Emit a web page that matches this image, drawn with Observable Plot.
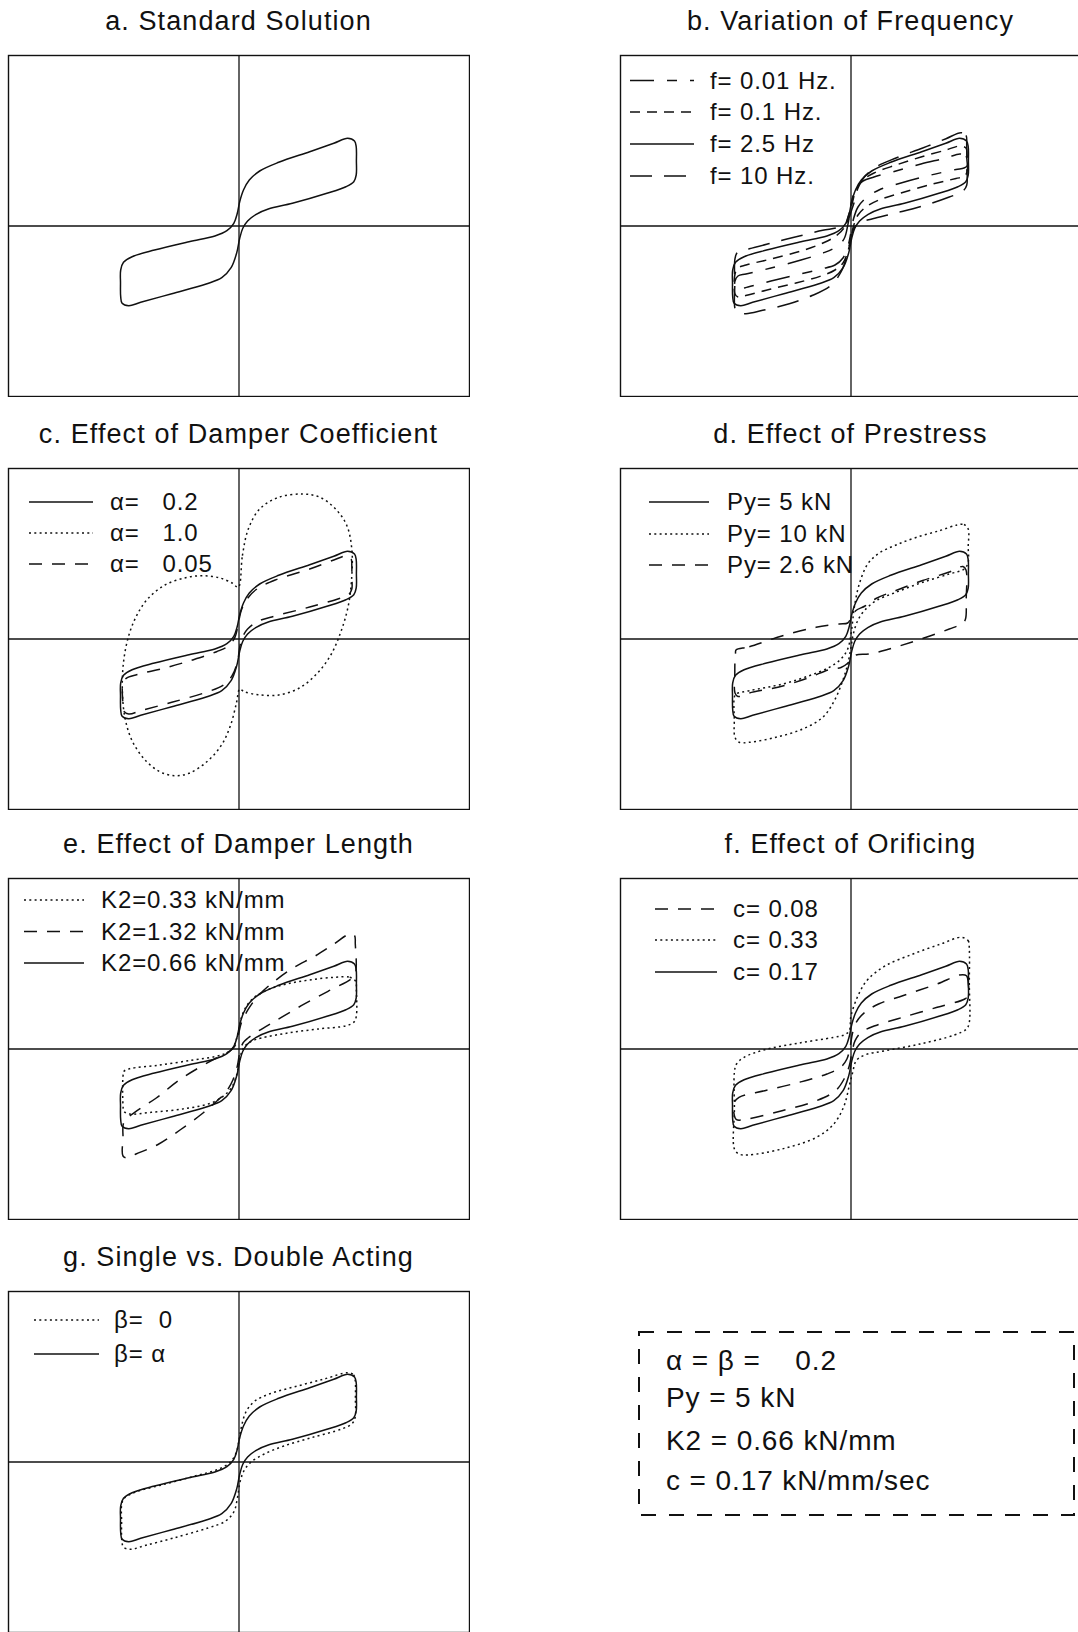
<!DOCTYPE html>
<html>
<head>
<meta charset="utf-8">
<script src="https://cdn.jsdelivr.net/npm/d3@7"></script>
<script src="https://cdn.jsdelivr.net/npm/@observablehq/plot@0.6"></script>
<style>
  html, body { margin: 0; padding: 0; background: #fff; }
  #page {
    position: relative; width: 1078px; height: 1632px; overflow: hidden; background: #fff;
    font-family: "Liberation Sans", Arial, Helvetica, sans-serif;
  }
  #page > svg { position: absolute; }
</style>
</head>
<body>
<div id="page"></div>
<script>
// Force (vertical) against displacement (horizontal) for one full cycle,
// each loop listed as [displacement, force] points traced around the loop.

// Standard solution: alpha = beta = 0.2, Py = 5 kN, K2 = 0.66 kN/mm, c = 0.17
const standardLoop = [
  [10.86, 8.77], [11.55, 8.5], [11.72, 7.93], [11.74, 6.5], [11.72, 5.1], [11.48, 4.43],
  [10.69, 3.93], [8.79, 3.27], [5.34, 2.27], [2.93, 1.7], [1.72, 1.17], [0.86, 0.5],
  [0.38, -0.23], [0.07, -1.23], [-0.24, -2.73], [-0.79, -4.17], [-1.72, -5.17], [-3.28, -5.8],
  [-6.72, -6.77], [-9.83, -7.63], [-11.03, -7.97], [-11.69, -7.73], [-11.83, -7.07], [-11.85, -5.7],
  [-11.83, -4.4], [-11.55, -3.63], [-10.69, -3.07], [-8.45, -2.4], [-5.0, -1.57], [-2.41, -1.0],
  [-1.21, -0.47], [-0.52, 0.27], [-0.17, 1.27], [0.07, 2.43], [0.45, 3.6], [1.03, 4.6],
  [2.07, 5.5], [3.97, 6.37], [7.07, 7.43], [9.48, 8.27]
];

// b. frequency of the cycle
const freq10Loop = [
  [11.0, 9.33], [11.5, 9.07], [11.57, 8.07], [11.58, 6.0], [11.57, 4.07], [11.17, 3.47],
  [9.83, 2.9], [7.17, 2.0], [4.5, 1.3], [2.17, 0.73], [1.0, 0.4], [0.43, 0.0],
  [0.1, -0.77], [-0.17, -1.93], [-0.5, -3.27], [-1.0, -4.6], [-2.0, -5.93], [-3.83, -6.93],
  [-6.17, -7.77], [-8.83, -8.43], [-10.5, -8.77], [-11.33, -8.67], [-11.6, -8.27], [-11.62, -5.8],
  [-11.6, -3.27], [-11.33, -2.6], [-10.17, -2.27], [-7.83, -1.67], [-5.17, -1.0], [-2.83, -0.43],
  [-1.5, -0.2], [-0.67, 0.07], [-0.23, 0.73], [0.0, 1.4], [0.33, 2.4], [0.67, 3.73],
  [1.33, 4.9], [2.5, 5.9], [4.5, 6.8], [7.17, 7.8], [9.5, 8.73]
];
const freq01Loop = [
  [10.9, 8.0], [11.5, 7.8], [11.6, 7.2], [11.6, 5.4], [11.3, 4.95], [10.5, 4.75],
  [8.0, 4.15], [5.0, 3.3], [2.8, 2.6], [1.5, 1.9], [0.7, 1.1], [0.25, 0.0],
  [0.0, -1.2], [-0.3, -2.5], [-0.8, -3.7], [-1.6, -4.4], [-3.0, -5.0], [-5.5, -5.7],
  [-8.0, -6.3], [-10.3, -6.9], [-11.3, -7.1], [-11.6, -6.8], [-11.6, -4.8], [-11.3, -4.2],
  [-10.5, -3.9], [-8.0, -3.3], [-5.0, -2.5], [-2.8, -1.7], [-1.5, -1.0], [-0.7, -0.2],
  [-0.3, 0.9], [0.1, 2.2], [0.5, 3.6], [1.2, 4.6], [2.3, 5.3], [4.5, 6.1],
  [7.0, 6.9], [9.5, 7.6]
];
const freq001Loop = [
  [10.9, 7.2], [11.5, 7.0], [11.6, 6.5], [11.6, 6.0], [11.3, 5.8], [10.5, 5.65],
  [8.0, 5.1], [5.0, 4.3], [2.8, 3.6], [1.5, 2.8], [0.7, 1.9], [0.25, 0.7],
  [0.0, -0.6], [-0.3, -2.0], [-0.8, -3.2], [-1.6, -3.9], [-3.0, -4.3], [-5.5, -4.9],
  [-8.0, -5.5], [-10.3, -6.1], [-11.3, -6.3], [-11.6, -6.1], [-11.6, -5.5], [-11.3, -5.0],
  [-10.5, -4.8], [-8.0, -4.2], [-5.0, -3.4], [-2.8, -2.7], [-1.5, -2.1], [-0.7, -1.3],
  [-0.3, 0.2], [0.1, 2.6], [0.5, 3.8], [1.2, 4.5], [2.3, 4.9], [4.5, 5.5],
  [7.0, 6.2], [9.5, 6.8]
];

// c. damper exponent
const alpha1Loop = [
  [-0.07, 5.17], [0.34, 8.33], [0.93, 11.0], [2.07, 13.0], [3.97, 14.17], [6.38, 14.5],
  [8.1, 14.17], [9.66, 13.0], [10.79, 11.33], [11.28, 9.0], [11.28, 6.33], [10.93, 3.33],
  [10.17, 0.67], [9.14, -1.67], [7.76, -3.5], [6.03, -4.9], [3.97, -5.6], [1.9, -5.57],
  [0.52, -5.27], [0.07, -5.0], [-0.24, -6.33], [-0.86, -8.67], [-1.79, -10.67], [-3.28, -12.33],
  [-5.0, -13.43], [-6.38, -13.67], [-7.93, -13.27], [-9.48, -12.0], [-10.69, -10.17], [-11.38, -8.0],
  [-11.66, -5.33], [-11.55, -2.33], [-11.03, 0.33], [-10.24, 2.33], [-9.14, 4.0], [-7.41, 5.4],
  [-5.34, 6.13], [-3.62, 6.33], [-1.9, 6.1], [-0.69, 5.6]
];
const alpha005Loop = [
  [10.69, 8.3], [11.21, 8.0], [11.28, 7.33], [11.28, 6.2], [11.28, 5.0], [10.93, 4.4],
  [10.17, 4.1], [7.07, 3.2], [3.62, 2.3], [1.9, 1.77], [0.86, 1.0], [0.34, 0.17],
  [0.1, -0.67], [-0.17, -2.33], [-0.69, -3.67], [-1.55, -4.6], [-3.28, -5.33], [-6.72, -6.33],
  [-9.83, -7.17], [-11.03, -7.5], [-11.55, -7.17], [-11.62, -6.33], [-11.62, -4.5], [-11.28, -3.93],
  [-10.17, -3.55], [-7.41, -2.9], [-4.66, -2.1], [-2.24, -1.27], [-1.03, -0.67], [-0.41, 0.17],
  [-0.1, 1.33], [0.17, 2.67], [0.69, 3.83], [1.72, 4.95], [3.62, 5.9], [7.07, 7.0],
  [9.48, 7.9]
];

// d. prestress force
const py10Loop = [
  [10.6, 11.4], [11.3, 11.45], [11.72, 11.0], [11.72, 9.2], [11.72, 7.7], [11.33, 7.0],
  [9.83, 6.5], [7.17, 5.67], [4.5, 4.67], [2.5, 3.83], [1.33, 2.83], [0.67, 1.83],
  [0.23, 0.5], [0.0, -0.83], [-0.33, -2.5], [-0.83, -4.17], [-1.67, -6.17], [-2.83, -7.83],
  [-4.83, -9.0], [-7.5, -9.83], [-10.17, -10.33], [-11.17, -10.33], [-11.6, -9.83], [-11.67, -8.0],
  [-11.67, -5.83], [-11.5, -5.5], [-10.17, -5.17], [-6.83, -4.5], [-4.17, -3.67], [-2.17, -2.83],
  [-1.0, -2.0], [-0.33, -1.0], [0.0, 0.5], [0.17, 1.83], [0.33, 3.17], [0.83, 5.5],
  [1.67, 7.5], [2.83, 8.6], [4.5, 9.4], [6.5, 10.15], [8.9, 10.85]
];
const py26Loop = [
  [-11.5, -1.1], [-10.17, -0.77], [-6.83, 0.33], [-3.5, 1.17], [-1.17, 1.5], [-0.33, 1.6],
  [0.05, 2.2], [0.5, 2.85], [1.4, 3.3], [2.5, 4.05], [4.5, 4.85], [7.17, 5.85],
  [9.83, 6.7], [11.2, 7.25], [11.5, 6.9], [11.52, 4.0], [11.45, 2.0], [11.17, 1.57],
  [9.83, 1.0], [6.5, -0.17], [3.83, -1.0], [1.83, -1.5], [0.5, -1.6], [0.1, -1.9],
  [-0.3, -2.4], [-1.0, -2.85], [-2.17, -3.05], [-4.17, -3.85], [-6.83, -4.7], [-10.17, -5.4],
  [-11.3, -5.75], [-11.6, -5.4], [-11.62, -3.5], [-11.6, -2.0], [-11.55, -1.4]
];

// e. damper stiffness
const k033Loop = [
  [9.57, 7.17], [11.07, 7.17], [11.67, 6.77], [11.73, 5.93], [11.73, 3.27], [11.5, 2.7],
  [10.73, 2.33], [7.9, 2.0], [4.9, 1.6], [2.23, 1.1], [1.23, 0.77], [0.57, 0.27],
  [0.23, -0.4], [0.0, -1.4], [-0.27, -2.73], [-0.77, -3.9], [-1.6, -4.73], [-2.77, -5.4],
  [-5.43, -5.97], [-8.77, -6.33], [-10.93, -6.5], [-11.5, -6.23], [-11.6, -5.57], [-11.6, -2.73],
  [-11.5, -2.23], [-10.93, -1.97], [-8.1, -1.63], [-4.77, -1.13], [-2.27, -0.73], [-1.27, -0.4],
  [-0.6, 0.1], [-0.27, 0.93], [-0.03, 1.93], [0.23, 3.1], [0.73, 4.27], [1.57, 5.2],
  [2.9, 5.93], [4.9, 6.53], [7.23, 6.93]
];
const k132Loop = [
  [11.07, 11.5], [11.55, 11.35], [11.63, 10.5], [11.63, 7.5], [11.2, 7.0], [8.9, 5.77],
  [6.23, 4.33], [3.57, 2.77], [1.9, 1.77], [0.9, 1.1], [0.4, 0.6], [0.07, -0.4],
  [-0.17, -1.73], [-0.6, -3.07], [-1.3, -4.3], [-2.1, -5.1], [-3.6, -6.4], [-5.9, -8.1],
  [-8.1, -9.55], [-10.3, -10.5], [-11.2, -10.9], [-11.6, -10.7], [-11.6, -8.9], [-11.5, -7.3],
  [-10.43, -6.33], [-8.27, -4.9], [-5.93, -3.07], [-3.77, -1.73], [-2.27, -0.9], [-1.1, -0.33],
  [-0.43, 0.27], [-0.1, 1.27], [0.23, 2.6], [0.9, 3.93], [1.9, 5.3], [3.2, 6.5],
  [5.4, 8.1], [7.57, 9.27], [9.5, 10.5]
];

// f. orifice coefficient
const c008Loop = [
  [10.86, 7.4], [11.55, 7.33], [11.72, 6.6], [11.72, 5.33], [11.38, 5.0], [8.62, 4.17],
  [5.17, 3.17], [2.41, 2.33], [1.03, 1.67], [0.41, 0.83], [0.1, -0.33], [-0.17, -1.67],
  [-0.69, -3.0], [-1.55, -4.17], [-3.45, -5.17], [-6.9, -6.17], [-10.34, -7.0], [-11.45, -7.07],
  [-11.66, -6.67], [-11.66, -5.33], [-11.2, -4.83], [-8.62, -4.17], [-5.17, -3.33], [-2.41, -2.5],
  [-1.03, -1.83], [-0.41, -1.0], [-0.1, 0.17], [0.17, 1.67], [0.52, 2.67], [1.38, 3.67],
  [2.76, 4.5], [5.17, 5.33], [8.62, 6.5]
];
const c033Loop = [
  [11.03, 11.17], [11.72, 10.83], [11.83, 10.0], [11.83, 6.5], [11.83, 2.67], [11.55, 2.0],
  [10.34, 1.4], [6.9, 0.5], [3.45, -0.17], [1.38, -0.6], [0.52, -1.17], [0.17, -2.33],
  [-0.17, -3.67], [-0.69, -5.67], [-1.72, -7.5], [-3.45, -8.83], [-6.9, -10.0], [-10.34, -10.6],
  [-11.2, -10.5], [-11.66, -10.0], [-11.66, -6.0], [-11.66, -2.33], [-11.45, -1.5], [-10.69, -0.83],
  [-8.62, -0.07], [-5.17, 0.6], [-1.72, 1.17], [-0.69, 1.4], [-0.17, 1.83], [0.0, 3.33],
  [0.86, 5.67], [1.72, 7.0], [3.45, 8.33], [6.2, 9.5], [8.97, 10.5]
];

// g. single acting damper (beta = 0)
const beta0Loop = [
  [10.86, 8.93], [11.45, 8.73], [11.62, 8.17], [11.64, 6.3], [11.62, 4.5], [11.31, 3.83],
  [10.34, 3.33], [7.24, 2.43], [4.48, 1.6], [2.59, 0.83], [1.21, 0.0], [0.52, -0.83],
  [0.1, -2.0], [-0.17, -3.67], [-0.52, -5.0], [-1.38, -5.93], [-3.1, -6.6], [-6.55, -7.6],
  [-9.31, -8.33], [-10.86, -8.73], [-11.55, -8.5], [-11.72, -7.83], [-11.74, -6.0], [-11.72, -4.17],
  [-11.45, -3.6], [-10.34, -3.0], [-7.24, -2.17], [-4.14, -1.33], [-2.07, -0.73], [-0.86, 0.0],
  [-0.28, 0.93], [0.0, 2.17], [0.24, 3.5], [0.69, 5.0], [1.55, 6.07], [3.1, 6.83],
  [5.86, 7.6], [8.62, 8.33]
];

// Text
const panelTitles = [
  "a. Standard Solution", "b. Variation of Frequency", "c. Effect of Damper Coefficient",
  "d. Effect of Prestress", "e. Effect of Damper Length", "f. Effect of Orificing",
  "g. Single vs. Double Acting"
];
const freqLabels = ["f= 0.01 Hz.", "f= 0.1 Hz.", "f= 2.5 Hz", "f= 10 Hz."];
const alphaLabels = ["α=   0.2", "α=   1.0", "α=   0.05"];
const prestressLabels = ["Py= 5 kN", "Py= 10 kN", "Py= 2.6 kN"];
const stiffnessLabels = ["K2=0.33 kN/mm", "K2=1.32 kN/mm", "K2=0.66 kN/mm"];
const orificeLabels = ["c= 0.08", "c= 0.33", "c= 0.17"];
const betaLabels = ["β=  0", "β= α"];
const parameterLines = ["α = β =    0.2", "Py = 5 kN", "K2 = 0.66 kN/mm", "c = 0.17 kN/mm/sec"];

// ---- layout and styles ----
const INK = "#111";
const FRAME_W = 461, FRAME_H = 341;
const X_DOMAIN = [-23.05, 23.05], Y_DOMAIN = [-17.05, 17.05];
const colLeft = [8, 620];
const rowTop = [55, 468, 878, 1291];
const dashes = {
  solid: null,
  dotted: "2,3.3",
  dashed: "13,10",
  longDash: "22,12",
  medDash: "10,7",
  longShort: "24,13,10,13"
};

const panels = [
  {title: panelTitles[0], col: 0, row: 0, curves: [[standardLoop, "solid"]], legend: null},
  {title: panelTitles[1], col: 1, row: 0,
   curves: [[freq001Loop, "longShort"], [freq01Loop, "medDash"], [standardLoop, "solid"], [freq10Loop, "longDash"]],
   legend: {labels: freqLabels, styles: ["longShort", "medDash", "solid", "longDash"], x1: 630, x2: 694, tx: 710, base: [88.5, 120, 152, 184]}},
  {title: panelTitles[2], col: 0, row: 1,
   curves: [[standardLoop, "solid"], [alpha1Loop, "dotted"], [alpha005Loop, "dashed"]],
   legend: {labels: alphaLabels, styles: ["solid", "dotted", "dashed"], x1: 29, x2: 93, tx: 110, base: [510, 541, 572]}},
  {title: panelTitles[3], col: 1, row: 1,
   curves: [[standardLoop, "solid"], [py10Loop, "dotted"], [py26Loop, "dashed"]],
   legend: {labels: prestressLabels, styles: ["solid", "dotted", "dashed"], x1: 649, x2: 709, tx: 727, base: [510, 542, 573]}},
  {title: panelTitles[4], col: 0, row: 2,
   curves: [[k033Loop, "dotted"], [k132Loop, "dashed"], [standardLoop, "solid"]],
   legend: {labels: stiffnessLabels, styles: ["dotted", "dashed", "solid"], x1: 24, x2: 84, tx: 101, base: [908, 939.5, 971]}},
  {title: panelTitles[5], col: 1, row: 2,
   curves: [[c008Loop, "dashed"], [c033Loop, "dotted"], [standardLoop, "solid"]],
   legend: {labels: orificeLabels, styles: ["dashed", "dotted", "solid"], x1: 655, x2: 717, tx: 733, base: [917, 948, 980]}},
  {title: panelTitles[6], col: 0, row: 3,
   curves: [[beta0Loop, "dotted"], [standardLoop, "solid"]],
   legend: {labels: betaLabels, styles: ["dotted", "solid"], x1: 34, x2: 99, tx: 114, base: [1328, 1362]}}
];

const page = document.getElementById("page");

// ---- hysteresis panels ----
for (const p of panels) {
  const marks = [
    Plot.frame({stroke: INK, strokeWidth: 1.4}),
    Plot.ruleX([0], {stroke: INK, strokeWidth: 1.3}),
    Plot.ruleY([0], {stroke: INK, strokeWidth: 1.3})
  ];
  for (const [loop, style] of p.curves) {
    const opts = {
      x: d => d[0], y: d => d[1],
      curve: "catmull-rom-closed",
      stroke: INK, strokeWidth: 1.5, strokeLinecap: "butt", strokeLinejoin: "round"
    };
    if (dashes[style]) opts.strokeDasharray = dashes[style];
    marks.push(Plot.line(loop, opts));
  }
  const svg = Plot.plot({
    width: FRAME_W + 2, height: FRAME_H + 2,
    marginTop: 1, marginRight: 1, marginBottom: 1, marginLeft: 1,
    x: {domain: X_DOMAIN, axis: null},
    y: {domain: Y_DOMAIN, axis: null},
    marks
  });
  svg.style.left = (colLeft[p.col] - 1) + "px";
  svg.style.top = (rowTop[p.row] - 1) + "px";
  svg.style.background = "transparent";
  page.appendChild(svg);
}

// ---- titles, legends and the parameter box ----
const overlay = d3.create("svg")
  .attr("width", 1078).attr("height", 1632)
  .style("left", "0px").style("top", "0px")
  .style("font-family", '"Liberation Sans", Arial, Helvetica, sans-serif')
  .attr("fill", INK);

for (const p of panels) {
  overlay.append("text")
    .attr("x", colLeft[p.col] + FRAME_W / 2)
    .attr("y", rowTop[p.row] - 25)
    .attr("text-anchor", "middle")
    .style("font-size", "27px").style("letter-spacing", "1.1px")
    .text(p.title);

  if (!p.legend) continue;
  const L = p.legend;
  L.labels.forEach((label, i) => {
    const y = L.base[i] - 8;
    const line = overlay.append("line")
      .attr("x1", L.x1).attr("x2", L.x2).attr("y1", y).attr("y2", y)
      .attr("stroke", INK).attr("stroke-width", 1.5);
    if (dashes[L.styles[i]]) line.attr("stroke-dasharray", dashes[L.styles[i]]);
    overlay.append("text")
      .attr("x", L.tx).attr("y", L.base[i])
      .attr("xml:space", "preserve")
      .style("white-space", "pre")
      .style("font-size", "24px").style("letter-spacing", "0.9px")
      .text(label);
  });
}

// parameter box
overlay.append("rect")
  .attr("x", 639).attr("y", 1332).attr("width", 435).attr("height", 183)
  .attr("fill", "none").attr("stroke", INK).attr("stroke-width", 2)
  .attr("stroke-dasharray", "15,13");
const boxBase = [1370, 1407, 1450, 1490];
parameterLines.forEach((t, i) => {
  overlay.append("text")
    .attr("x", 666).attr("y", boxBase[i])
    .attr("xml:space", "preserve")
    .style("white-space", "pre")
    .style("font-size", "28px").style("letter-spacing", "0.9px")
    .text(t);
});

page.appendChild(overlay.node());
</script>
</body>
</html>
